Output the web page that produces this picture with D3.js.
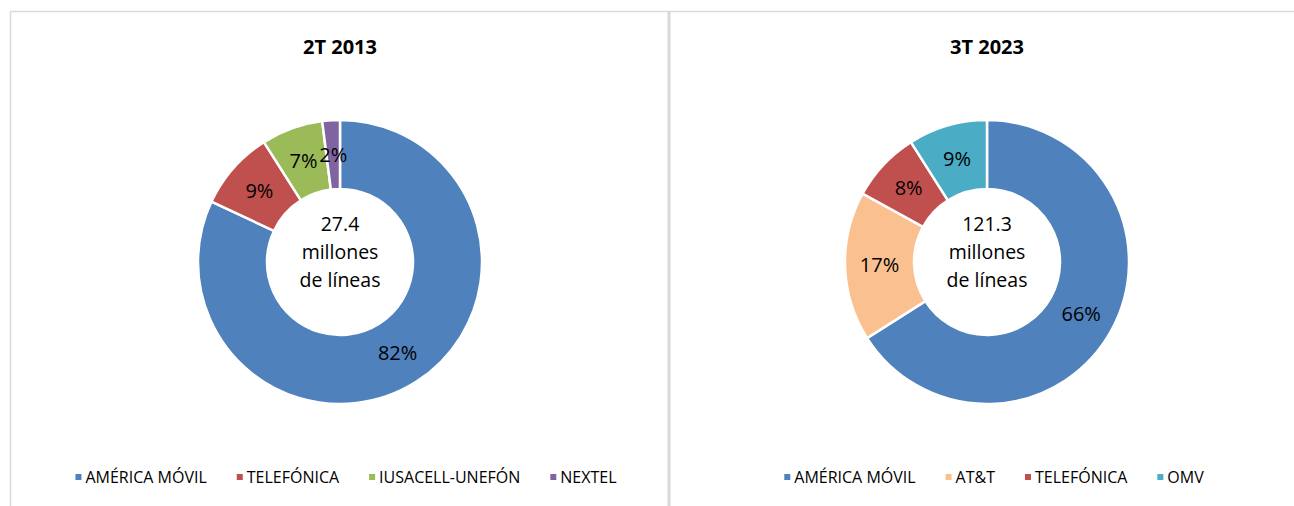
<!DOCTYPE html>
<html>
<head>
<meta charset="utf-8">
<script src="https://cdn.jsdelivr.net/npm/d3@7"></script>
<style>
  body { margin: 0; background: #fff; }
  text { font-family: "Open Sans", "Noto Sans", sans-serif; fill: #000; }
</style>
</head>
<body>
<div id="chart"></div>
<script>
// Chart data
var titles = ["2T 2013", "3T 2023"];
var totals = ["27.4", "121.3"];
var categories2013 = ["AMÉRICA MÓVIL", "TELEFÓNICA", "IUSACELL-UNEFÓN", "NEXTEL"];
var values2013 = [82, 9, 7, 2];
var categories2023 = ["AMÉRICA MÓVIL", "AT&T", "TELEFÓNICA", "OMV"];
var values2023 = [66, 17, 8, 9];

var colors = {
    "AMÉRICA MÓVIL": "#4F81BD",
    "TELEFÓNICA": "#C0504D",
    "IUSACELL-UNEFÓN": "#9BBB59",
    "NEXTEL": "#8064A2",
    "AT&T": "#FAC090",
    "OMV": "#4BACC6"
};

var svgWidth = 1294;
var svgHeight = 506;

var svg = d3.select("#chart")
    .append("svg")
    .attr("width", svgWidth)
    .attr("height", svgHeight);

// panel borders
svg.append("line")
    .attr("x1", 10).attr("x2", svgWidth).attr("y1", 11.5).attr("y2", 11.5)
    .attr("stroke", "#D9D9D9").attr("stroke-width", 1.5);
svg.append("line")
    .attr("x1", 10.5).attr("x2", 10.5).attr("y1", 11).attr("y2", svgHeight)
    .attr("stroke", "#D9D9D9").attr("stroke-width", 1.5);
svg.append("line")
    .attr("x1", 669).attr("x2", 669).attr("y1", 11).attr("y2", svgHeight)
    .attr("stroke", "#D9D9D9").attr("stroke-width", 3);

var panels = [
    { title: titles[0], total: totals[0], cats: categories2013, vals: values2013, cx: 340, legendX: 346 },
    { title: titles[1], total: totals[1], cats: categories2023, vals: values2023, cx: 987, legendX: 994 }
];

var outerR = 142;
var innerR = 73;
var cy = 262;

var pie = d3.pie().sort(null).value(d => d.value);
var arc = d3.arc().innerRadius(innerR).outerRadius(outerR);

panels.forEach(function (p) {
    var data = p.cats.map((c, i) => ({ name: c, value: p.vals[i] }));

    svg.append("text")
        .attr("x", p.cx)
        .attr("y", 54)
        .attr("text-anchor", "middle")
        .style("font-size", "20px")
        .style("font-weight", "bold")
        .text(p.title);

    var g = svg.append("g")
        .attr("transform", `translate(${p.cx}, ${cy})`);

    g.selectAll("path")
        .data(pie(data))
        .enter()
        .append("path")
        .attr("d", arc)
        .attr("fill", d => colors[d.data.name])
        .attr("stroke", "#fff")
        .attr("stroke-width", 2.5);

    g.selectAll(".lbl")
        .data(pie(data))
        .enter()
        .append("text")
        .attr("class", "lbl")
        .attr("x", d => arc.centroid(d)[0])
        .attr("y", d => arc.centroid(d)[1])
        .attr("dy", "0.35em")
        .attr("text-anchor", "middle")
        .style("font-size", "20px")
        .text(d => d.data.value + "%");

    // center label
    var centerLines = [p.total, "millones", "de líneas"];
    g.selectAll(".ctr")
        .data(centerLines)
        .enter()
        .append("text")
        .attr("class", "ctr")
        .attr("x", 0)
        .attr("y", (d, i) => -38 + i * 28)
        .attr("dy", "0.35em")
        .attr("text-anchor", "middle")
        .style("font-size", "19.5px")
        .text(d => d);

    // legend
    var lg = svg.append("g");
    var items = lg.selectAll("g")
        .data(p.cats)
        .enter()
        .append("g");
    items.append("rect")
        .attr("width", 6).attr("height", 6)
        .attr("y", -3)
        .attr("fill", d => colors[d]);
    items.append("text")
        .attr("x", 10)
        .attr("dy", "0.35em")
        .style("font-size", "16px")
        .text(d => d);

    var x = 0;
    var gap = 30;
    items.each(function () {
        var w = d3.select(this).select("text").node().getComputedTextLength() + 10;
        d3.select(this).attr("transform", `translate(${x}, 0)`);
        x += w + gap;
    });
    var totalW = x - gap;
    lg.attr("transform", `translate(${p.legendX - totalW / 2}, 477)`);
});
</script>
</body>
</html>
